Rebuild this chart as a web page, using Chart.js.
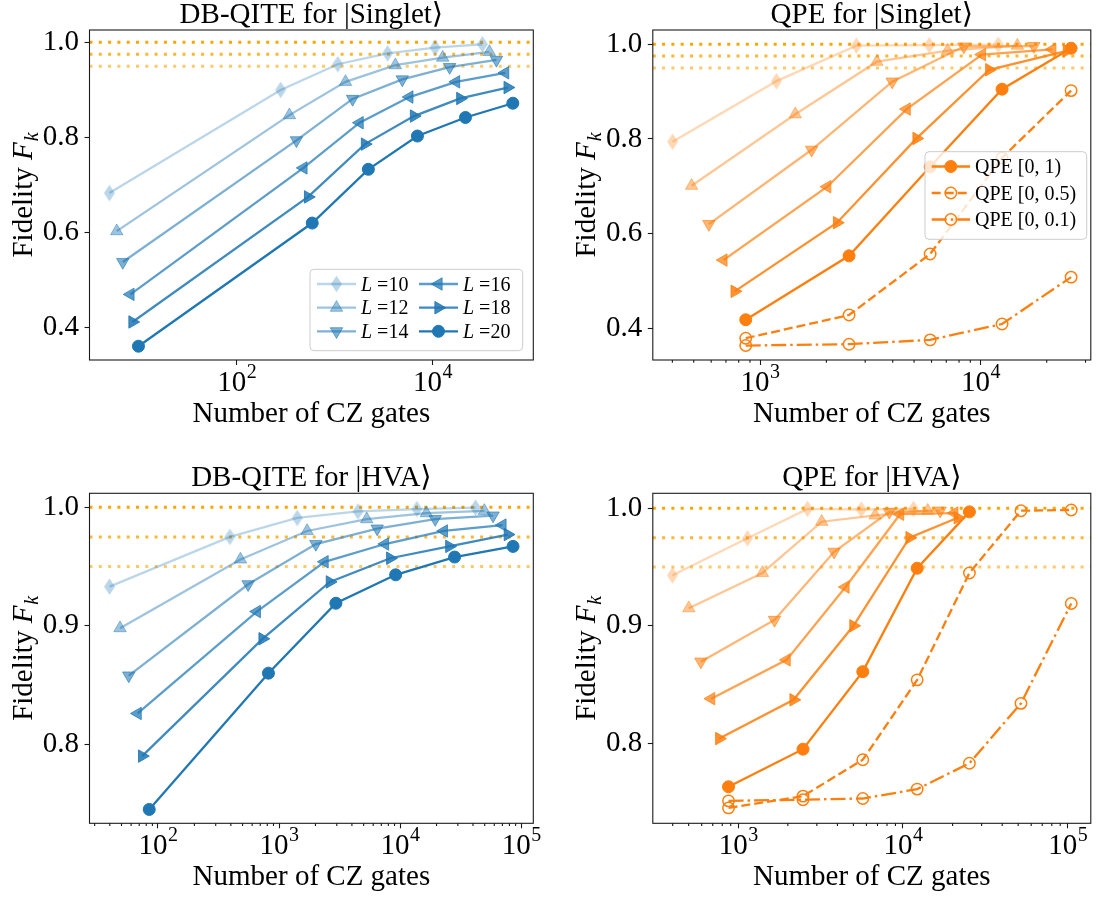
<!DOCTYPE html>
<html>
<head>
<meta charset="utf-8">
<title>DB-QITE and QPE fidelity vs number of CZ gates</title>
<script src="https://cdn.jsdelivr.net/npm/chart.js"></script>
<style>
  body { margin: 0; background: #fff; }
  .page { position: relative; width: 1099px; height: 899px; overflow: hidden; }
  canvas { position: absolute; }
</style>
</head>
<body>
<div class="page">
  <canvas id="c1" width="550" height="440" style="left:0;top:0"></canvas>
  <canvas id="c2" width="549" height="440" style="left:550px;top:0"></canvas>
  <canvas id="c3" width="550" height="459" style="left:0;top:440px"></canvas>
  <canvas id="c4" width="549" height="459" style="left:550px;top:440px"></canvas>
</div>
<script>
// ---- data ----
const Ls = [10, 12, 14, 16, 18, 20];
const thresholds = [1.0, 0.975, 0.95];

// DB-QITE for |Singlet>
const qiteSingletX = [
  [5.0, 281, 1077, 3475, 10600, 32300],
  [5.94, 345, 1291, 4170, 12700, 38100],
  [6.85, 407, 1524, 4910, 14960, 44950],
  [8.2, 480, 1800, 5800, 17400, 55200],
  [8.6, 535, 2040, 6460, 19200, 58500],
  [9.9, 590, 2210, 7010, 21700, 66100]
];
const qiteSingletY = [
  [0.683, 0.900, 0.954, 0.977, 0.989, 0.996],
  [0.603, 0.847, 0.917, 0.952, 0.968, 0.980],
  [0.538, 0.794, 0.881, 0.922, 0.948, 0.963],
  [0.470, 0.736, 0.831, 0.885, 0.917, 0.936],
  [0.412, 0.675, 0.786, 0.845, 0.882, 0.905],
  [0.361, 0.620, 0.733, 0.803, 0.842, 0.872]
];

// QPE for |Singlet>
const qpeSingletX = [
  [401, 1186, 2736, 5860, 12050],
  [489, 1445, 3390, 7100, 14720],
  [586, 1714, 3980, 8410, 17480],
  [682, 2018, 4630, 10160, 21200],
  [767, 2235, 5130, 10970, 24700],
  [861, 2535, 5915, 12540, 25800]
];
const qpeSingletY = [
  [0.794, 0.922, 0.997, 0.998, 0.999],
  [0.701, 0.852, 0.963, 0.9865, 0.997],
  [0.620, 0.777, 0.921, 0.995, 0.996],
  [0.544, 0.699, 0.863, 0.978, 0.989],
  [0.478, 0.623, 0.801, 0.946, 0.986],
  [0.418, 0.553, 0.741, 0.905, 0.9915]
];
const qpeSingletWinX = [861, 2535, 5915, 12540, 25800];
const qpeSingletHalfY = [0.379, 0.428, 0.557, 0.760, 0.902];
const qpeSingletTenthY = [0.3635, 0.3664, 0.3755, 0.409, 0.508];

// DB-QITE for |HVA>
const qiteHvaX = [
  [39.8, 393, 1413, 4490, 13770, 42000],
  [48.6, 480, 1706, 5300, 16500, 49700],
  [57.4, 556, 2015, 6470, 19500, 58600],
  [68, 656, 2380, 7510, 23000, 70100],
  [74, 731, 2630, 8290, 25500, 77600],
  [84.7, 818, 2950, 9190, 28200, 85700]
];
const qiteHvaY = [
  [0.933, 0.975, 0.991, 0.9965, 0.9985, 0.9997],
  [0.898, 0.956, 0.980, 0.990, 0.995, 0.997],
  [0.858, 0.935, 0.969, 0.982, 0.990, 0.993],
  [0.826, 0.912, 0.954, 0.969, 0.980, 0.985],
  [0.790, 0.889, 0.937, 0.957, 0.967, 0.977],
  [0.745, 0.860, 0.919, 0.943, 0.958, 0.967]
];

// QPE for |HVA>
const qpeHvaX = [
  [399, 1138, 2630, 5580, 11590],
  [501, 1402, 3210, 6780, 14130],
  [593, 1660, 3820, 8260, 16810],
  [685, 1967, 4480, 9600, 20500],
  [767, 2166, 5000, 10960, 21500],
  [873, 2472, 5700, 12190, 25300]
];
const qpeHvaY = [
  [0.943, 0.9745, 0.9995, 0.999, 0.9995],
  [0.915, 0.945, 0.9886, 0.994, 0.998],
  [0.8695, 0.905, 0.963, 0.997, 0.998],
  [0.838, 0.871, 0.933, 0.995, 0.996],
  [0.804, 0.837, 0.900, 0.975, 0.992],
  [0.763, 0.795, 0.861, 0.949, 0.997]
];
const qpeHvaWinX = [873, 2472, 5700, 12190, 25300, 52000, 105000];
const qpeHvaHalfY = [0.745, 0.755, 0.786, 0.854, 0.945, 0.998, 0.9986];
const qpeHvaTenthY = [0.751, 0.752, 0.753, 0.761, 0.783, 0.834, 0.919];

const qpeLabels = ['QPE [0, 1)', 'QPE [0, 0.5)', 'QPE [0, 0.1)'];
const titles = ['DB-QITE for |Singlet\u27E9', 'QPE for |Singlet\u27E9', 'DB-QITE for |HVA\u27E9', 'QPE for |HVA\u27E9'];
const xTitle = 'Number of CZ gates';
const yTicksTop = [0.4, 0.6, 0.8, 1.0];
const yTicksBottom = [0.8, 0.9, 1.0];

// ---- styling ----
const SERIF = '"Liberation Serif", "DejaVu Serif", serif';
const FS = 29;
const BLUE = [31, 119, 180], ORANGE = [255, 127, 14];
const ALPHA = [0.3, 0.44, 0.58, 0.72, 0.86, 1];
const MARKERS = [
  {style: 'thin'}, {style: 'triangle', rot: 0}, {style: 'triangle', rot: 180},
  {style: 'triangle', rot: 270}, {style: 'triangle', rot: 90}, {style: 'circle'}
];
const DASHED = [9, 4], DASHDOT = [15, 4, 2.5, 4];
const rgba = (c, a) => `rgba(${c[0]},${c[1]},${c[2]},${a})`;

Chart.defaults.font.family = SERIF;

const diamondCache = {};
function diamondImg(col) {
  if (diamondCache[col]) return diamondCache[col];
  const h = 16.5, w = 11, c = document.createElement('canvas');
  c.width = 13; c.height = 19;
  const g = c.getContext('2d'), cx = c.width / 2, cy = c.height / 2;
  g.fillStyle = col;
  g.beginPath();
  g.moveTo(cx, cy - h / 2); g.lineTo(cx + w / 2, cy); g.lineTo(cx, cy + h / 2); g.lineTo(cx - w / 2, cy);
  g.closePath(); g.fill();
  diamondCache[col] = c;
  return c;
}

function markerOpts(m, col, filled) {
  if (m.style === 'thin') return {pointStyle: diamondImg(col), pointRadius: 8, pointRotation: 0, pointBorderWidth: 0};
  if (m.style === 'triangle') return {pointStyle: 'triangle', pointRadius: 7.2, pointRotation: m.rot, pointBorderWidth: 1};
  return {pointStyle: 'circle', pointRadius: filled ? 6 : 5.7, pointRotation: 0, pointBorderWidth: filled ? 1 : 1.5};
}

function series(label, xs, ys, col, m, dash, filled, order) {
  return Object.assign({
    label: label,
    data: xs.map((x, j) => ({x: x, y: ys[j]})),
    borderColor: col, borderWidth: 2.3, borderDash: dash, fill: false, tension: 0,
    pointBackgroundColor: filled ? col : 'rgba(0,0,0,0)', pointBorderColor: col,
    order: order
  }, markerOpts(m, col, filled));
}

function lSeries(xs, ys, base) {
  return Ls.map((L, i) => series('L =' + L, xs[i], ys[i], rgba(base, ALPHA[i]), MARKERS[i], [], true, 20 - i));
}

function drawMarker(ctx, m, x, y, col, filled) {
  ctx.save();
  ctx.fillStyle = col; ctx.strokeStyle = col; ctx.setLineDash([]);
  if (m.style === 'thin') {
    const img = diamondImg(col);
    ctx.drawImage(img, x - img.width / 2, y - img.height / 2);
  } else if (m.style === 'triangle') {
    const r = 7.2;
    ctx.translate(x, y); ctx.rotate(m.rot * Math.PI / 180);
    ctx.beginPath();
    ctx.moveTo(0, -r); ctx.lineTo(0.866 * r, 0.5 * r); ctx.lineTo(-0.866 * r, 0.5 * r);
    ctx.closePath(); ctx.fill(); ctx.lineWidth = 1; ctx.stroke();
  } else {
    ctx.beginPath(); ctx.arc(x, y, filled ? 6 : 5.7, 0, 2 * Math.PI);
    if (filled) { ctx.fill(); ctx.lineWidth = 1; } else { ctx.lineWidth = 1.5; }
    ctx.stroke();
  }
  ctx.restore();
}

function roundBox(ctx, x, y, w, h, r) {
  ctx.beginPath();
  ctx.moveTo(x + r, y);
  ctx.arcTo(x + w, y, x + w, y + h, r);
  ctx.arcTo(x + w, y + h, x, y + h, r);
  ctx.arcTo(x, y + h, x, y, r);
  ctx.arcTo(x, y, x + w, y, r);
  ctx.closePath();
}

function drawLegend(ctx, lg) {
  ctx.save();
  const [x0, y0, x1, y1] = lg.box;
  roundBox(ctx, x0, y0, x1 - x0, y1 - y0, 4);
  ctx.fillStyle = 'rgba(255,255,255,0.8)'; ctx.fill();
  ctx.strokeStyle = '#cccccc'; ctx.lineWidth = 1; ctx.stroke();
  lg.entries.forEach((e, i) => {
    const hx = lg.cols[Math.floor(i / lg.rows.length)], hy = lg.rows[i % lg.rows.length];
    ctx.strokeStyle = e.color; ctx.lineWidth = 2.3; ctx.setLineDash(e.dash);
    ctx.beginPath(); ctx.moveTo(hx, hy); ctx.lineTo(hx + lg.handle, hy); ctx.stroke();
    ctx.setLineDash([]);
    drawMarker(ctx, e.marker, hx + lg.handle / 2, hy, e.color, e.filled);
    let tx = hx + lg.handle + 5;
    const by = hy + 6.5;
    ctx.fillStyle = '#000'; ctx.textAlign = 'left'; ctx.textBaseline = 'alphabetic';
    if (e.math) {
      ctx.font = `italic 20px ${SERIF}`; ctx.fillText(e.math, tx, by);
      tx += ctx.measureText(e.math).width + 5;
    }
    ctx.font = `20px ${SERIF}`; ctx.fillText(e.text, tx, by);
  });
  ctx.restore();
}

function decor(p) {
  return {
    id: 'decor',
    beforeDatasetsDraw(chart) {
      const {ctx, chartArea: a} = chart, y = chart.scales.y;
      ctx.save();
      ctx.lineWidth = 3; ctx.setLineDash([3, 6.3]);
      const al = [1, 0.8, 0.6];
      thresholds.forEach((t, i) => {
        const py = y.getPixelForValue(t);
        ctx.strokeStyle = `rgba(255,165,0,${al[i]})`;
        ctx.beginPath(); ctx.moveTo(a.left, py); ctx.lineTo(a.right, py); ctx.stroke();
      });
      ctx.restore();
    },
    afterDraw(chart) {
      const {ctx, chartArea: a} = chart, x = chart.scales.x;
      ctx.save();
      // frame
      ctx.strokeStyle = '#1a1a1a'; ctx.lineWidth = 1.1; ctx.setLineDash([]);
      ctx.strokeRect(a.left, a.top, a.right - a.left, a.bottom - a.top);
      // minor log ticks
      if (p.minor) {
        ctx.beginPath();
        for (let n = Math.floor(Math.log10(x.min)); n <= Math.ceil(Math.log10(x.max)); n++) {
          for (let k = 2; k <= 9; k++) {
            const v = k * Math.pow(10, n);
            if (v < x.min || v > x.max) continue;
            const px = x.getPixelForValue(v);
            ctx.moveTo(px, a.bottom); ctx.lineTo(px, a.bottom + 2.8);
          }
        }
        ctx.stroke();
      }
      ctx.fillStyle = '#000'; ctx.textBaseline = 'alphabetic';
      // x tick labels 10^n
      p.xticks.forEach(v => {
        const px = x.getPixelForValue(v);
        const e = String(Math.round(Math.log10(v)));
        ctx.font = `${FS}px ${SERIF}`; const w1 = ctx.measureText('10').width;
        ctx.font = `20px ${SERIF}`; const w2 = ctx.measureText(e).width;
        const x0 = px - (w1 + w2) / 2;
        ctx.textAlign = 'left';
        ctx.font = `${FS}px ${SERIF}`; ctx.fillText('10', x0, a.bottom + 31);
        ctx.font = `20px ${SERIF}`; ctx.fillText(e, x0 + w1 + 0.5, a.bottom + 18);
      });
      // title and x label
      ctx.textAlign = 'center';
      ctx.font = `${FS}px ${SERIF}`;
      const cx = (a.left + a.right) / 2;
      ctx.fillText(p.title, cx, a.top - 7);
      ctx.fillText(xTitle, cx, a.bottom + 62);
      // y label: Fidelity F_k
      ctx.save();
      ctx.translate(a.left - 58, (a.top + a.bottom) / 2);
      ctx.rotate(-Math.PI / 2);
      ctx.textAlign = 'left';
      ctx.font = `${FS}px ${SERIF}`; const w1 = ctx.measureText('Fidelity ').width;
      ctx.font = `italic ${FS}px ${SERIF}`; const w2 = ctx.measureText('F').width;
      ctx.font = `italic 20px ${SERIF}`; const w3 = ctx.measureText('k').width;
      const s = -(w1 + w2 + w3 + 1) / 2;
      ctx.font = `${FS}px ${SERIF}`; ctx.fillText('Fidelity ', s, 0);
      ctx.font = `italic ${FS}px ${SERIF}`; ctx.fillText('F', s + w1, 0);
      ctx.font = `italic 20px ${SERIF}`; ctx.fillText('k', s + w1 + w2 + 1, 6);
      ctx.restore();
      if (p.legend) drawLegend(ctx, p.legend);
      ctx.restore();
    }
  };
}

function makeChart(id, p) {
  const tickGrid = {drawOnChartArea: false, drawTicks: true, tickLength: 5, tickWidth: 1.1, tickColor: '#1a1a1a'};
  return new Chart(document.getElementById(id), {
    type: 'line',
    data: {datasets: p.datasets},
    options: {
      responsive: false, animation: false, devicePixelRatio: 1,
      layout: {padding: {left: 0, top: p.top, right: p.right, bottom: 0}},
      plugins: {legend: {display: false}, tooltip: {enabled: false}, title: {display: false}},
      scales: {
        x: {
          type: 'logarithmic', position: 'bottom', min: p.xmin, max: p.xmax,
          afterFit: s => { s.height = p.xh; },
          afterBuildTicks: s => { s.ticks = p.xticks.map(v => ({value: v})); },
          ticks: {display: false},
          grid: tickGrid, border: {display: false}
        },
        y: {
          type: 'linear', min: p.ymin, max: p.ymax,
          afterFit: s => { s.width = p.yw; },
          afterBuildTicks: s => { s.ticks = p.yticks.map(v => ({value: v})); },
          ticks: {callback: v => v.toFixed(1), font: {family: SERIF, size: FS}, color: '#000', padding: 5.5},
          grid: tickGrid, border: {display: false}
        }
      }
    },
    plugins: [decor(p)]
  });
}

const blueLegend = Ls.map((L, i) => ({math: 'L', text: '=' + L, color: rgba(BLUE, ALPHA[i]), marker: MARKERS[i], dash: [], filled: true}));
const orangeLegend = [
  {text: qpeLabels[0], color: rgba(ORANGE, 1), marker: MARKERS[5], dash: [], filled: true},
  {text: qpeLabels[1], color: rgba(ORANGE, 1), marker: MARKERS[5], dash: DASHED, filled: false},
  {text: qpeLabels[2], color: rgba(ORANGE, 1), marker: MARKERS[5], dash: DASHDOT, filled: false}
];

function windowSets(xs, half, tenth) {
  const c = rgba(ORANGE, 1);
  return [
    series(qpeLabels[1], xs, half, c, MARKERS[5], DASHED, false, 14),
    series(qpeLabels[2], xs, tenth, c, MARKERS[5], DASHDOT, false, 13)
  ];
}

makeChart('c1', {
  datasets: lSeries(qiteSingletX, qiteSingletY, BLUE),
  title: titles[0], top: 30, right: 16.7, yw: 89.5, xh: 80,
  xmin: 3.13, xmax: 1.07e5, xticks: [1e2, 1e4], minor: false,
  ymin: 0.332, ymax: 1.026, yticks: yTicksTop,
  legend: {box: [310, 269.3, 522.7, 350.7], rows: [284, 307.7, 331.3], cols: [317, 419], handle: 39, entries: blueLegend}
});

makeChart('c2', {
  datasets: lSeries(qpeSingletX, qpeSingletY, ORANGE).concat(windowSets(qpeSingletWinX, qpeSingletHalfY, qpeSingletTenthY)),
  title: titles[1], top: 30, right: 1.6, yw: 102.8, xh: 80,
  xmin: 326, xmax: 31700, xticks: [1e3, 1e4], minor: true,
  ymin: 0.333, ymax: 1.030, yticks: yTicksTop,
  legend: {box: [375, 151.7, 536.7, 239.3], rows: [166.5, 193, 219.5], cols: [381.7], handle: 38.3, entries: orangeLegend}
});

makeChart('c3', {
  datasets: lSeries(qiteHvaX, qiteHvaY, BLUE),
  title: titles[2], top: 53.3, right: 16.7, yw: 89.5, xh: 75.7,
  xmin: 27.2, xmax: 1.26e5, xticks: [1e2, 1e3, 1e4, 1e5], minor: true,
  ymin: 0.7333, ymax: 1.0118, yticks: yTicksBottom
});

makeChart('c4', {
  datasets: lSeries(qpeHvaX, qpeHvaY, ORANGE).concat(windowSets(qpeHvaWinX, qpeHvaHalfY, qpeHvaTenthY)),
  title: titles[3], top: 53.3, right: 1.6, yw: 102.8, xh: 75.7,
  xmin: 303, xmax: 1.38e5, xticks: [1e3, 1e4, 1e5], minor: true,
  ymin: 0.7319, ymax: 1.0128, yticks: yTicksBottom
});
</script>
</body>
</html>
